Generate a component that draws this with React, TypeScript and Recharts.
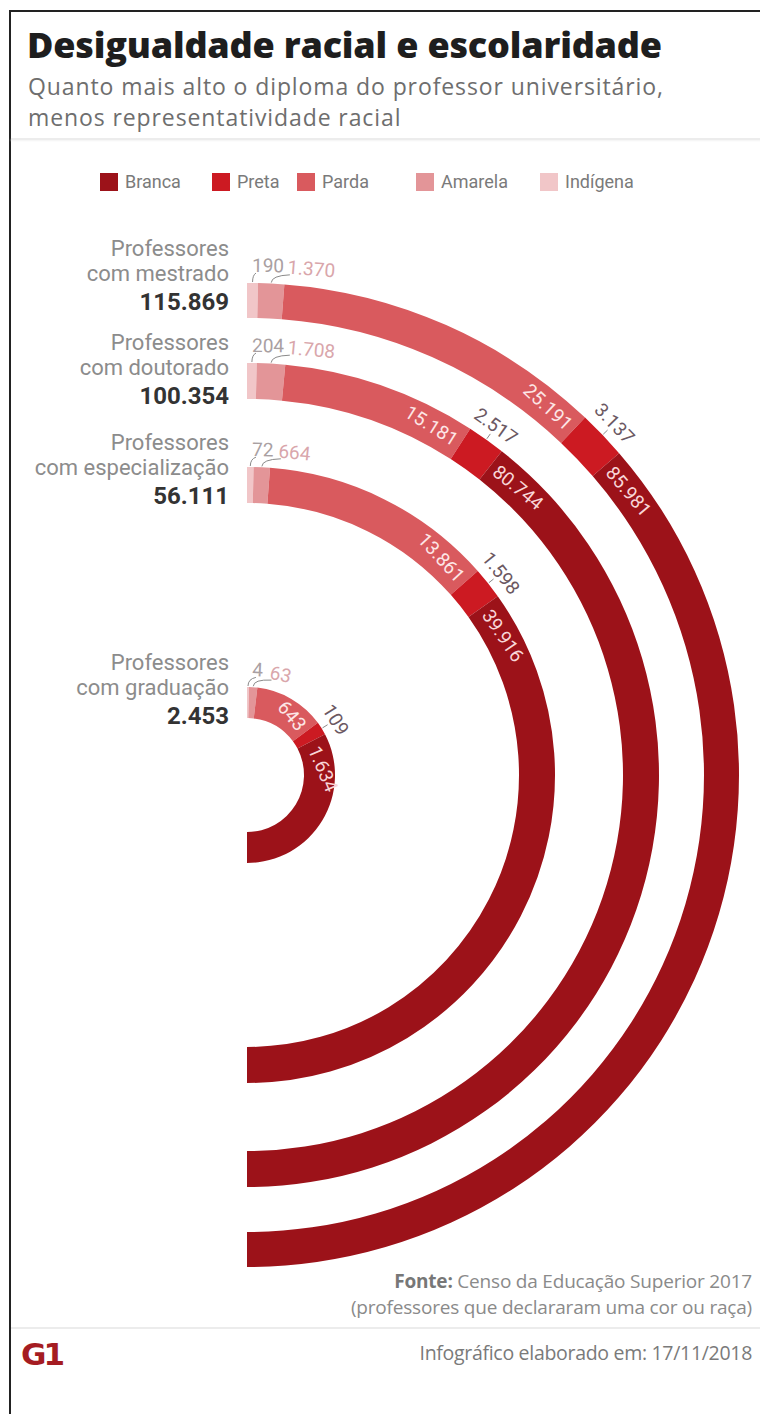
import React from 'react';
import { PieChart, Pie, Cell } from 'recharts';

// ---- data ----
const categories = ['Indígena', 'Amarela', 'Parda', 'Preta', 'Branca'];
const legendOrder = ['Branca', 'Preta', 'Parda', 'Amarela', 'Indígena'];
const categoryColors: Record<string, string> = {
  Branca: '#9c1219',
  Preta: '#cc1a22',
  Parda: '#d95a5e',
  Amarela: '#e39598',
  'Indígena': '#f1c6c8',
};
const degreeLabels = ['com mestrado', 'com doutorado', 'com especialização', 'com graduação'];
const indigena = [190, 204, 72, 4];
const amarela = [1370, 1708, 664, 63];
const parda = [25191, 15181, 13861, 643];
const preta = [3137, 2517, 1598, 109];
const branca = [85981, 80744, 39916, 1634];

// ---- layout ----
const W = 760;
const H = 1414;
const CX = 247;
const CY = 775;
const rings = [
  { inner: 457, outer: 492 },
  { inner: 376, outer: 412 },
  { inner: 272, outer: 308 },
  { inner: 57, outer: 88 },
];
const leftBlocks = [236, 330, 430, 650];
const legendX = [100, 212, 297, 416, 540];

const LABEL_FONT = "Roboto, 'Liberation Sans Narrow', sans-serif";
const RAD = Math.PI / 180;

const fmt = (n: number) => String(n).replace(/\B(?=(\d{3})+(?!\d))/g, '.');

const ringData = (i: number) => {
  const vals = [indigena[i], amarela[i], parda[i], preta[i], branca[i]];
  return categories.map((c, k) => ({ name: c, value: vals[k] }));
};

const pt = (r: number, deg: number): [number, number] => [CX + r * Math.cos(deg * RAD), CY - r * Math.sin(deg * RAD)];
const degPx = (px: number, r: number) => px / r / RAD;

function arcText(r: number, deg: number, text: string, anchor: string, baseline: string, fill: string, size: number) {
  const [x, y] = pt(r, deg);
  return (
    <text
      x={x}
      y={y}
      transform={`rotate(${90 - deg} ${x} ${y})`}
      textAnchor={anchor as any}
      dominantBaseline={baseline as any}
      fill={fill}
      fontSize={size}
      fontFamily={LABEL_FONT}
    >
      {text}
    </text>
  );
}

const makeLabel = (ringIdx: number) => (props: any) => {
  const { innerRadius, outerRadius, startAngle, endAngle, midAngle, index, value } = props;
  const mid = (innerRadius + outerRadius) / 2;
  const txt = fmt(value);
  const rl = outerRadius + 11;
  const indStart = 90 - degPx(5, rl);
  if (index === 0) {
    const p0 = pt(outerRadius + 1, midAngle);
    const c = pt(outerRadius + 8, midAngle);
    const p1 = pt(rl - 1, indStart - degPx(4, rl));
    return (
      <g>
        <path d={`M${p0[0]},${p0[1]} Q${c[0]},${c[1]} ${p1[0]},${p1[1]}`} stroke="#8a8a8a" fill="none" strokeWidth={1} />
        {arcText(rl, indStart, txt, 'start', 'auto', '#a9a0a2', 19)}
      </g>
    );
  }
  if (index === 1) {
    const indTxt = fmt(indigena[ringIdx]);
    const start = indStart - degPx(indTxt.length * 9 + 8, rl);
    const p0 = pt(outerRadius + 1, midAngle);
    const c = pt(outerRadius + 8, midAngle);
    const p1 = pt(rl - 1, start - degPx(3, rl));
    return (
      <g>
        <path d={`M${p0[0]},${p0[1]} Q${c[0]},${c[1]} ${p1[0]},${p1[1]}`} stroke="#8a8a8a" fill="none" strokeWidth={1} />
        {arcText(rl, start, txt, 'start', 'auto', '#d9a6ab', 19)}
      </g>
    );
  }
  if (index === 2) {
    return arcText(mid, endAngle + degPx(5, mid), txt, 'end', 'central', '#fde6e6', 19);
  }
  if (index === 3) {
    const p0 = pt(outerRadius + 1, midAngle);
    const p1 = pt(outerRadius + 7, midAngle);
    return (
      <g>
        <path d={`M${p0[0]},${p0[1]} L${p1[0]},${p1[1]}`} stroke="#8a8a8a" strokeWidth={1} />
        {arcText(outerRadius + 10, midAngle, txt, 'middle', 'auto', '#6b5862', 19)}
      </g>
    );
  }
  return arcText(mid, startAngle - degPx(6, mid), txt, 'start', 'central', '#f8d6d8', 19);
};

const totals = degreeLabels.map((_, i) => indigena[i] + amarela[i] + parda[i] + preta[i] + branca[i]);

const subStyle: React.CSSProperties = {
  position: 'absolute',
  left: 28,
  fontFamily: "'Open Sans', sans-serif",
  fontSize: 23,
  lineHeight: '32px',
  color: '#6e6e6e',
  letterSpacing: 0.9,
  whiteSpace: 'nowrap',
};

export default function App() {
  return (
    <div style={{ position: 'absolute', left: 0, top: 0, width: W, height: H, background: '#fff', overflow: 'hidden' }}>
      <div style={{ position: 'absolute', left: 9, top: 10, width: W + 100, height: H + 100, borderTop: '2px solid #222', borderLeft: '2px solid #222' }} />
      <div style={{ position: 'absolute', left: 27, top: 20, fontFamily: "'Open Sans', sans-serif", fontWeight: 800, fontSize: 36, color: '#1e1e1e', letterSpacing: -0.2, whiteSpace: 'nowrap' }}>
        Desigualdade racial e escolaridade
      </div>
      <div style={{ ...subStyle, top: 70 }}>Quanto mais alto o diploma do professor universitário,</div>
      <div style={{ ...subStyle, top: 101 }}>menos representatividade racial</div>
      <div style={{ position: 'absolute', left: 11, top: 138, width: W, height: 2, background: '#ececec', boxShadow: '0 1px 2px #f2f2f2' }} />

      {legendOrder.map((c, i) => (
        <div key={c} style={{ position: 'absolute', left: legendX[i], top: 171, display: 'flex', alignItems: 'center', fontFamily: LABEL_FONT, fontSize: 18, color: '#7a7a7a' }}>
          <div style={{ width: 18, height: 18, background: categoryColors[c], marginRight: 7 }} />
          <span>{c}</span>
        </div>
      ))}

      <div style={{ position: 'absolute', left: 0, top: 0 }}>
        <PieChart width={W} height={H} margin={{ top: 0, right: 0, bottom: 0, left: 0 }}>
          {rings.map((r, i) => (
            <Pie
              key={i}
              data={ringData(i)}
              dataKey="value"
              nameKey="name"
              cx={CX}
              cy={CY}
              innerRadius={r.inner}
              outerRadius={r.outer}
              startAngle={90}
              endAngle={-90}
              minAngle={1}
              paddingAngle={0}
              stroke="none"
              isAnimationActive={false}
              label={makeLabel(i)}
              labelLine={false}
            >
              {categories.map((c) => (
                <Cell key={c} fill={categoryColors[c]} />
              ))}
            </Pie>
          ))}
        </PieChart>
      </div>

      {degreeLabels.map((d, i) => (
        <div key={d} style={{ position: 'absolute', right: W - 229, top: leftBlocks[i], textAlign: 'right', whiteSpace: 'nowrap' }}>
          <div style={{ fontFamily: LABEL_FONT, fontSize: 22, lineHeight: '25px', color: '#8c8c8c' }}>Professores</div>
          <div style={{ fontFamily: LABEL_FONT, fontSize: 22, lineHeight: '25px', color: '#8c8c8c' }}>{d}</div>
          <div style={{ fontFamily: "Roboto, sans-serif", fontWeight: 700, fontSize: 24, lineHeight: '32px', color: '#333' }}>{fmt(totals[i])}</div>
        </div>
      ))}

      <div style={{ position: 'absolute', right: 8, top: 1268, textAlign: 'right', fontFamily: "'Open Sans', sans-serif", fontSize: 19, lineHeight: '26px', color: '#8a8a8a', letterSpacing: -0.2, whiteSpace: 'nowrap' }}>
        <div><span style={{ fontWeight: 700, color: '#777' }}>Fonte:</span> Censo da Educação Superior 2017</div>
        <div>(professores que declararam uma cor ou raça)</div>
      </div>
      <div style={{ position: 'absolute', left: 11, top: 1327, width: W, height: 2, background: '#ececec' }} />
      <div style={{ position: 'absolute', right: 8, top: 1339, fontFamily: "'Open Sans', sans-serif", fontSize: 19.5, color: '#7a7a7a', letterSpacing: -0.3, whiteSpace: 'nowrap' }}>
        Infográfico elaborado em: 17/11/2018
      </div>
      <div style={{ position: 'absolute', left: 21, top: 1336, fontFamily: "'DejaVu Sans', sans-serif", fontWeight: 900, fontSize: 31, letterSpacing: -3, color: '#a51c22' }}>
        G1
      </div>
    </div>
  );
}
